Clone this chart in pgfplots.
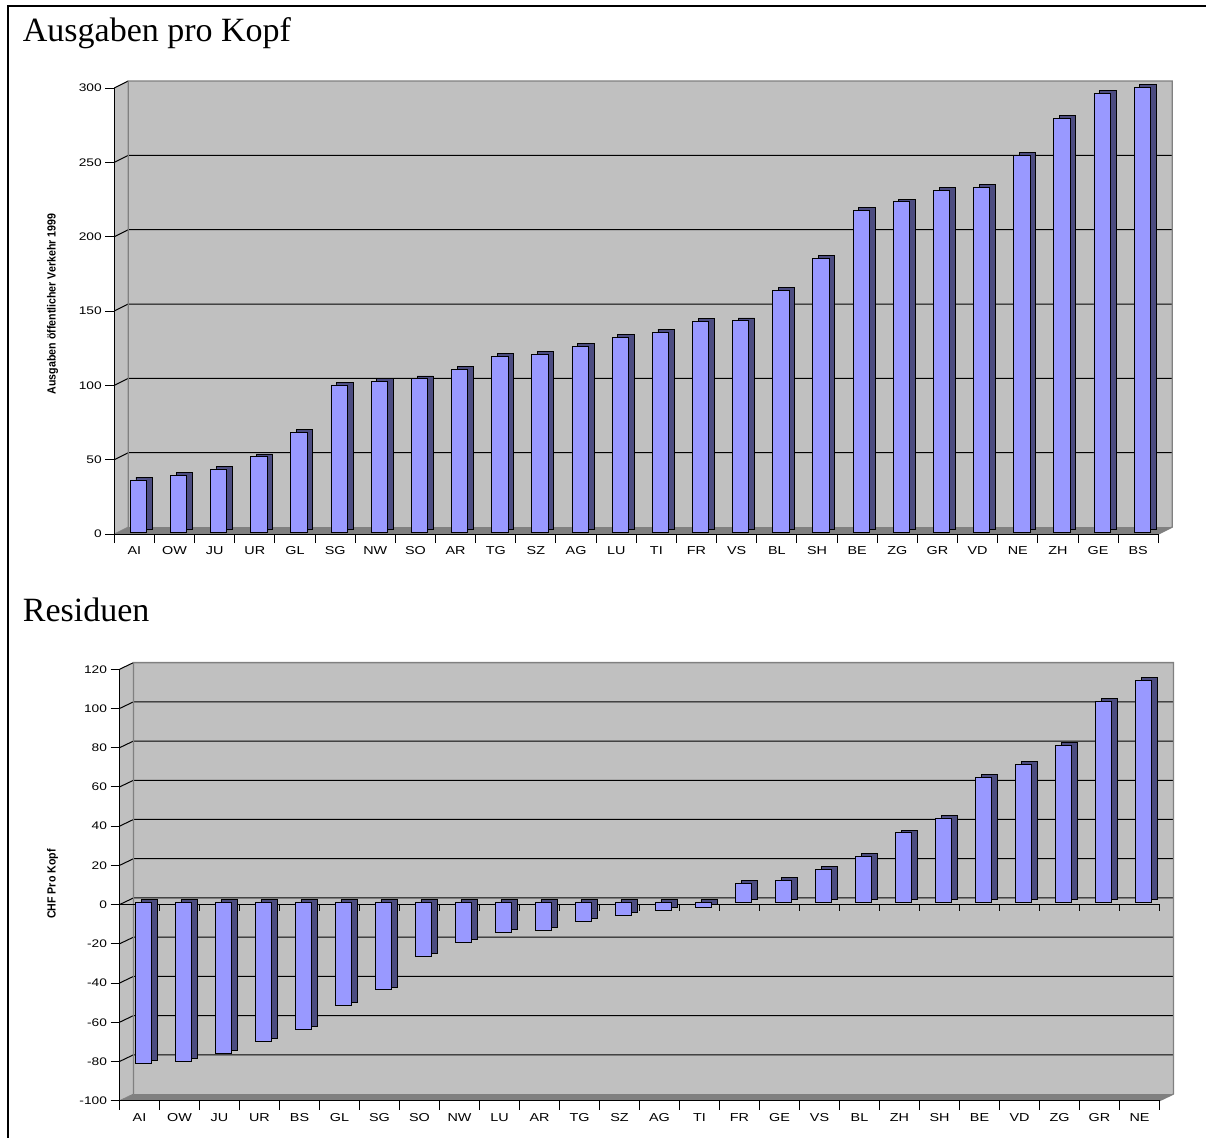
\documentclass[border=0pt]{standalone}
\usepackage{fontspec}
\setmainfont{Liberation Serif}
\newfontfamily\tickfont[FakeStretch=1.25]{Liberation Sans}
\newfontfamily\labfont[FakeStretch=0.9]{Liberation Sans}
\usepackage{pgfplots}
\usepackage{pgfplotstable}
\pgfplotsset{compat=1.18}
\definecolor{wallc}{HTML}{C0C0C0}
\definecolor{floorc}{HTML}{808080}
\definecolor{edgec}{HTML}{808080}
\definecolor{frontc}{HTML}{9999FF}
\definecolor{sidec}{HTML}{4C4C80}

\pgfplotstableread{
x lab v
0 AI 35.0
1 OW 38.3
2 JU 42.4
3 UR 50.6
4 GL 66.8
5 SG 98.9
6 NW 101.5
7 SO 103.1
8 AR 109.6
9 TG 118.2
10 SZ 119.5
11 AG 124.9
12 LU 131.1
13 TI 134.5
14 FR 141.9
15 VS 142.1
16 BL 162.7
17 SH 184.3
18 BE 216.5
19 ZG 222.1
20 GR 230.0
21 VD 231.8
22 NE 253.5
23 ZH 278.2
24 GE 295.0
25 BS 299.0
}\topdata

\pgfplotstableread{
x lab v
0 AI -81.9
1 OW -81.0
2 JU -76.9
3 UR -70.6
4 BS -64.5
5 GL -52.3
6 SG -44.5
7 SO -27.5
8 NW -20.3
9 LU -15.2
10 AR -14.0
11 TG -9.6
12 SZ -6.5
13 AG -4.0
14 TI -2.5
15 FR 9.8
16 GE 11.5
17 VS 16.9
18 BL 23.7
19 ZH 35.6
20 SH 43.2
21 BE 63.8
22 VD 70.6
23 ZG 80.2
24 GR 102.8
25 NE 113.5
}\botdata

\pgfplotsset{
  excel/.style={
    scale only axis, anchor=south west, clip=false,
    axis on top,
    axis x line*=bottom, axis y line*=left,
    axis line style={black, line width=1pt},
    xmin=-0.5, xmax=25.5,
    xtick={-0.5,0.5,...,25.5},
    x tick label as interval,
    tick align=outside,
    major tick length=9pt,
    tick style={black, line width=1pt},
    /pgf/number format/assume math mode=true,
    xticklabel style={font=\tickfont\fontsize{11.5}{13}\selectfont, text=black},
    yticklabel style={font=\tickfont\fontsize{11}{12}\selectfont, text=black},
  },
  backbar/.style={ybar, bar width=16.3pt, bar shift=9.7pt, yshift=4.8pt,
    fill=sidec, draw=black, line width=0.8pt},
  frontbar/.style={ybar, bar width=16.3pt, bar shift=4pt, yshift=2pt,
    fill=frontc, draw=black, line width=0.8pt},
}

\begin{document}
\begin{tikzpicture}
% frame
\draw[line width=2.3pt] (7.8pt,-1140pt) -- (7.8pt,-6.2pt) -- (1210pt,-6.2pt);
% titles
\node[anchor=base west, inner sep=0pt, font=\fontsize{34}{40}\selectfont] at (22.7pt,-41.7pt) {Ausgaben pro Kopf};
\node[anchor=base west, inner sep=0pt, font=\fontsize{34}{40}\selectfont] at (22.7pt,-621.7pt) {Residuen};

%%% top chart
\begin{axis}[excel,
  at={(114.3pt,-534pt)}, width=1044pt, height=446pt,
  ymin=0, ymax=300, ytick={0,50,...,300},
  xticklabels from table={\topdata}{lab},
  ylabel={Ausgaben öffentlicher Verkehr 1999},
  every axis y label/.style={at={(axis description cs:-0.059,0.516)}, anchor=center, rotate=90,
    font=\labfont\bfseries\fontsize{11.8}{12}\selectfont},
]
% floor
\fill[floorc] (axis cs:-0.5,0) -- (axis cs:25.5,0) -- ([shift={(14pt,7pt)}]axis cs:25.5,0) -- ([shift={(14pt,7pt)}]axis cs:-0.5,0) -- cycle;
% wall
\fill[wallc] ([shift={(14pt,7pt)}]axis cs:-0.5,0) rectangle ([shift={(14pt,7pt)}]axis cs:25.5,300);
% side panel
\fill[wallc] (axis cs:-0.5,0) -- ([shift={(14pt,7pt)}]axis cs:-0.5,0) -- ([shift={(14pt,7pt)}]axis cs:-0.5,300) -- (axis cs:-0.5,300) -- cycle;
% grid
\pgfplotsinvokeforeach{50,100,150,200,250}{
  \draw[black, line width=1pt] (axis cs:-0.5,#1) -- ([shift={(14pt,7pt)}]axis cs:-0.5,#1) -- ([shift={(14pt,7pt)}]axis cs:25.5,#1);
}
\draw[black, line width=1pt] (axis cs:-0.5,300) -- ([shift={(14pt,7pt)}]axis cs:-0.5,300);
\draw[edgec, line width=0.8pt] (axis cs:-0.5,0) -- ([shift={(14pt,7pt)}]axis cs:-0.5,0);
% wall edges
\draw[edgec, line width=1.3pt] ([shift={(14pt,7pt)}]axis cs:-0.5,0) -- ([shift={(14pt,7pt)}]axis cs:-0.5,300) -- ([shift={(14pt,7pt)}]axis cs:25.5,300) -- ([shift={(14pt,7pt)}]axis cs:25.5,0) -- (axis cs:25.5,0);
\addplot[backbar] table[x=x,y=v]{\topdata};
\addplot[frontbar] table[x=x,y=v]{\topdata};
\end{axis}

%%% bottom chart
\begin{axis}[excel,
  at={(119.5pt,-1100.7pt)}, width=1040pt, height=431.4pt,
  ymin=-100, ymax=120, ytick={-100,-80,...,120},
  xticklabels from table={\botdata}{lab},
  ylabel={CHF Pro Kopf},
  every axis y label/.style={at={(axis description cs:-0.0644,0.502)}, anchor=center, rotate=90,
    font=\labfont\bfseries\fontsize{11.8}{12}\selectfont},
]
\fill[floorc] (axis cs:-0.5,-100) -- (axis cs:25.5,-100) -- ([shift={(14pt,6.7pt)}]axis cs:25.5,-100) -- ([shift={(14pt,6.7pt)}]axis cs:-0.5,-100) -- cycle;
\fill[wallc] ([shift={(14pt,6.7pt)}]axis cs:-0.5,-100) rectangle ([shift={(14pt,6.7pt)}]axis cs:25.5,120);
\fill[wallc] (axis cs:-0.5,-100) -- ([shift={(14pt,6.7pt)}]axis cs:-0.5,-100) -- ([shift={(14pt,6.7pt)}]axis cs:-0.5,120) -- (axis cs:-0.5,120) -- cycle;
\pgfplotsinvokeforeach{-80,-60,-40,-20,0,20,40,60,80,100}{
  \draw[black, line width=1pt] (axis cs:-0.5,#1) -- ([shift={(14pt,6.7pt)}]axis cs:-0.5,#1) -- ([shift={(14pt,6.7pt)}]axis cs:25.5,#1);
}
\draw[black, line width=1pt] (axis cs:-0.5,120) -- ([shift={(14pt,6.7pt)}]axis cs:-0.5,120);
\draw[edgec, line width=0.8pt] (axis cs:-0.5,-100) -- ([shift={(14pt,6.7pt)}]axis cs:-0.5,-100);
\draw[edgec, line width=1.3pt] ([shift={(14pt,6.7pt)}]axis cs:-0.5,-100) -- ([shift={(14pt,6.7pt)}]axis cs:-0.5,120) -- ([shift={(14pt,6.7pt)}]axis cs:25.5,120) -- ([shift={(14pt,6.7pt)}]axis cs:25.5,-100) -- (axis cs:25.5,-100);
% zero line with ticks
\draw[black, line width=1pt] (axis cs:-0.5,0) -- (axis cs:25.5,0);
\pgfplotsinvokeforeach{0.5,1.5,...,25.5}{
  \draw[black, line width=0.8pt] (axis cs:#1,0) -- ([yshift=-6pt]axis cs:#1,0);
}
\addplot[backbar] table[x=x,y=v]{\botdata};
\addplot[frontbar] table[x=x,y=v]{\botdata};
\end{axis}

\pgfresetboundingbox
\path[use as bounding box] (0,0) rectangle (1206pt,-1137pt);
\end{tikzpicture}
\end{document}
